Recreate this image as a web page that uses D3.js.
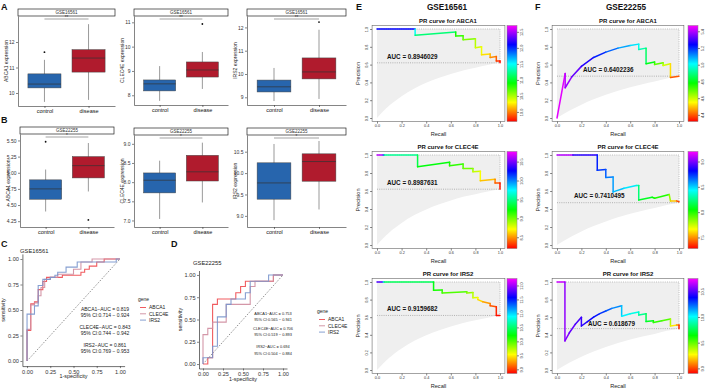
<!DOCTYPE html>
<html lang="en">
<head>
<meta charset="utf-8">
<title>Figure</title>
<script src="https://cdn.jsdelivr.net/npm/d3@7/dist/d3.min.js"></script>
<style>
  body { margin: 0; background: #fff; }
  svg { display: block; font-family: "Liberation Sans", Arial, sans-serif; }
</style>
</head>
<body>
<script>
// ---- data ----
var groups = ["control", "disease"];
var genes = ["ABCA1", "CLEC4E", "IRS2"];

// boxplot stats per group: [lower whisker, Q1, median, Q3, upper whisker]
var boxA1 = [[9.65, 10.2, 10.35, 10.75, 11.3], [9.73, 10.82, 11.37, 11.7, 12.7]];
var outA1 = [[11.6], []];
var boxA2 = [[7.77, 8.18, 8.47, 8.63, 9.2], [8.26, 8.75, 9.04, 9.37, 9.78]];
var outA2 = [[], [10.93]];
var boxA3 = [[8.84, 9.23, 9.45, 9.74, 10.26], [8.93, 9.79, 10.09, 10.69, 11.9]];
var outA3 = [[], [12.23]];
var boxB1 = [[4.40, 4.59, 4.75, 4.89, 5.05], [4.71, 4.92, 5.11, 5.25, 5.46]];
var outB1 = [[5.48], [4.27]];
var boxB2 = [[7.04, 7.72, 8.05, 8.24, 8.56], [7.47, 8.03, 8.27, 8.7, 9.03]];
var outB2 = [[], []];
var boxB3 = [[8.9, 9.39, 9.77, 10.24, 10.68], [9.15, 9.81, 10.27, 10.45, 10.75]];
var outB3 = [[], []];

// ROC curves: [fpr, tpr] (top of each vertical step)
var rocC_ABCA1 = [[0,0],[0,0.3],[0.04,0.56],[0.08,0.58],[0.12,0.7],[0.17,0.78],[0.21,0.82],[0.38,0.84],[0.58,0.87],[0.62,0.9],[0.67,0.93],[0.75,0.97],[0.83,1],[1,1]];
var rocC_CLEC4E = [[0,0],[0,0.31],[0.04,0.55],[0.08,0.57],[0.12,0.64],[0.15,0.72],[0.19,0.8],[0.25,0.82],[0.33,0.85],[0.5,0.9],[0.58,0.97],[0.7,1],[1,1]];
var rocC_IRS2 = [[0,0],[0,0.46],[0.08,0.54],[0.12,0.74],[0.17,0.8],[0.25,0.82],[0.3,0.84],[0.33,0.87],[0.42,0.92],[0.54,0.97],[0.96,1],[1,1]];
var rocD_ABCA1 = [[0,0],[0.06,0.07],[0.12,0.67],[0.18,0.73],[0.41,0.8],[0.47,0.87],[0.53,0.93],[0.88,1],[1,1]];
var rocD_CLEC4E = [[0,0],[0,0.33],[0.06,0.4],[0.12,0.47],[0.29,0.67],[0.59,0.87],[0.65,0.93],[0.88,1],[1,1]];
var rocD_IRS2 = [[0,0],[0,0.07],[0.12,0.2],[0.18,0.53],[0.29,0.67],[0.35,0.73],[0.53,0.8],[0.59,0.93],[0.82,1],[1,1]];
var aucC = ["ABCA1\u2212AUC = 0.819", "95% CI:0.714 \u2212 0.924", "CLEC4E\u2212AUC = 0.843", "95% CI:0.744 \u2212 0.942", "IRS2\u2212AUC = 0.861", "95% CI:0.769 \u2212 0.953"];
var aucD = ["ABCA1\u2212AUC = 0.753", "95% CI:0.565 \u2212 0.941", "CLEC4E\u2212AUC = 0.706", "95% CI:0.519 \u2212 0.893", "IRS2\u2212AUC = 0.694", "95% CI:0.504 \u2212 0.884"];

// PR curves: [recall, precision, threshold]
var prE_ABCA1 = [[0,1,12.7],[0.31,1,11.5],[0.31,0.93,11.45],[0.64,0.965,10.9],[0.64,0.92,10.85],[0.70,0.925,10.75],[0.70,0.88,10.7],[0.80,0.89,10.5],[0.80,0.79,10.45],[0.85,0.80,10.35],[0.85,0.71,10.3],[0.92,0.72,10.15],[0.92,0.68,10.1],[0.97,0.69,9.95],[0.97,0.64,9.9],[1.0,0.64,9.75],[1.0,0.62,9.7]];
var prE_CLEC4E = [[0,1,10.77],[0.05,1,10.5],[0.06,1,9.6],[0.33,1,9.45],[0.33,0.87,9.3],[0.59,0.92,9.2],[0.59,0.88,9.17],[0.70,0.90,9.1],[0.70,0.85,9.05],[0.78,0.85,8.95],[0.78,0.815,8.9],[0.84,0.82,8.75],[0.84,0.715,8.7],[0.96,0.73,8.48],[0.96,0.69,8.45],[1.0,0.69,8.3],[1.0,0.62,8.2]];
var prE_IRS2 = [[0,1,12.25],[0.05,1,11.3],[0.06,1,10.6],[0.46,1,10.3],[0.46,0.905,10.2],[0.53,0.91,10.1],[0.53,0.875,10.05],[0.73,0.89,9.95],[0.73,0.875,9.9],[0.78,0.88,9.75],[0.78,0.82,9.7],[0.82,0.825,9.55],[0.82,0.80,9.5],[0.86,0.775,9.35],[0.92,0.755,9.2],[0.92,0.73,9.15],[0.97,0.72,9.0],[0.97,0.62,8.9],[1.0,0.62,8.85]];
var prF_ABCA1 = [[0,0,5.47],[0.067,0.5,5.42],[0.067,0.34,5.4],[0.12,0.46,5.36],[0.2,0.58,5.3],[0.3,0.68,5.24],[0.4,0.74,5.18],[0.5,0.785,5.12],[0.6,0.815,5.06],[0.67,0.83,5.01],[0.67,0.77,4.98],[0.73,0.785,4.9],[0.73,0.61,4.84],[0.8,0.63,4.76],[0.8,0.60,4.73],[0.87,0.62,4.66],[0.87,0.59,4.62],[0.93,0.61,4.56],[0.93,0.455,4.48],[1.0,0.47,4.32]];
var prF_CLEC4E = [[0,1,9.2],[0.13,1,8.98],[0.33,1,8.78],[0.33,0.83,8.76],[0.40,0.84,8.7],[0.40,0.75,8.66],[0.46,0.755,8.6],[0.46,0.59,8.56],[0.55,0.63,8.5],[0.65,0.66,8.43],[0.67,0.66,8.3],[0.67,0.50,8.15],[0.78,0.53,8.05],[0.80,0.52,8.03],[0.92,0.56,7.98],[0.93,0.49,7.66],[0.98,0.49,7.5],[1.0,0.48,7.28]];
var prF_IRS2 = [[0,1,10.75],[0.065,1,10.6],[0.065,0.33,10.58],[0.1,0.42,10.55],[0.15,0.52,10.5],[0.2,0.60,10.47],[0.2,0.50,10.45],[0.25,0.55,10.42],[0.3,0.60,10.38],[0.35,0.64,10.33],[0.4,0.67,10.28],[0.45,0.70,10.22],[0.53,0.73,10.14],[0.53,0.61,10.05],[0.6,0.64,10.0],[0.67,0.66,9.95],[0.67,0.625,9.9],[0.73,0.64,9.8],[0.73,0.55,9.72],[0.79,0.56,9.65],[0.79,0.54,9.6],[0.86,0.56,9.55],[0.93,0.58,9.5],[0.93,0.50,9.27],[0.98,0.51,9.2],[1.0,0.51,9.0],[1.0,0.47,8.9]];
// lower bound of the PR region
var minCurveE = [[0,0],[0.05,0.075],[0.1,0.14],[0.2,0.245],[0.3,0.33],[0.4,0.395],[0.5,0.45],[0.6,0.495],[0.7,0.535],[0.8,0.565],[0.9,0.595],[1,0.62]];
var minCurveF = [[0,0],[0.05,0.042],[0.1,0.081],[0.2,0.15],[0.3,0.21],[0.4,0.26],[0.5,0.307],[0.6,0.346],[0.7,0.38],[0.8,0.41],[0.9,0.445],[1,0.47]];
var aucE = ["AUC = 0.8946029", "AUC = 0.8987631", "AUC = 0.9159682"];
var aucF = ["AUC = 0.6402236", "AUC = 0.7410495", "AUC = 0.618679"];

var rocColors = {ABCA1: "#ee4a4f", CLEC4E: "#cf8c9e", IRS2: "#7995cc"};

var svg = d3.select("body").append("svg").attr("width", 708).attr("height", 392);

function styleAxis(a, size) {
  a.attr("font-size", size).attr("font-family", "Liberation Sans, Arial, sans-serif");
  a.selectAll("path, line").attr("stroke", "#333").attr("stroke-width", 0.6);
  a.selectAll("text").attr("fill", "#333");
}

function boxPanel(c) {
  var g = svg.append("g");
  var x = d3.scalePoint().domain(groups).range([c.x0, c.x1]).padding(0.6);
  var y = d3.scaleLinear().domain(c.domain).range([c.y1, c.y0]);
  var bw = x.step() * 0.75;

  g.append("rect").attr("x", c.x0).attr("y", c.y0 - 7).attr("width", c.x1 - c.x0).attr("height", 7)
    .attr("fill", "#fff").attr("stroke", "#222").attr("stroke-width", 0.7);
  g.append("text").attr("x", (c.x0 + c.x1) / 2).attr("y", c.y0 - 1.8).attr("text-anchor", "middle")
    .attr("font-size", 4.5).attr("fill", "#333").text(c.strip);

  var ya = g.append("g").attr("transform", "translate(" + c.x0 + ",0)")
    .call(d3.axisLeft(y).tickValues(c.ticks).tickFormat(c.fmt).tickSize(2).tickSizeOuter(0).tickPadding(1.5));
  styleAxis(ya, 5);
  var xa = g.append("g").attr("transform", "translate(0," + c.y1 + ")")
    .call(d3.axisBottom(x).tickSize(2).tickSizeOuter(0).tickPadding(1));
  styleAxis(xa, 5.5);
  xa.selectAll("text").attr("fill", "#111");

  g.append("text").attr("transform", "translate(" + (c.x0 - 10) + "," + ((c.y0 + c.y1) / 2) + ") rotate(-90)")
    .attr("text-anchor", "middle").attr("font-size", 5).attr("fill", "#222").text(c.title);

  groups.forEach(function(k, i) {
    var s = c.stats[i], cx = x(k);
    g.append("line").attr("x1", cx).attr("x2", cx).attr("y1", y(s[0])).attr("y2", y(s[4]))
      .attr("stroke", "#555").attr("stroke-width", 0.6);
    g.append("rect").attr("x", cx - bw / 2).attr("width", bw).attr("y", y(s[3])).attr("height", y(s[1]) - y(s[3]))
      .attr("fill", i == 0 ? "#2765ad" : "#b01b2d").attr("stroke", "#444").attr("stroke-width", 0.5);
    g.append("line").attr("x1", cx - bw / 2).attr("x2", cx + bw / 2).attr("y1", y(s[2])).attr("y2", y(s[2]))
      .attr("stroke", "#333").attr("stroke-width", 0.7);
    c.out[i].forEach(function(v) {
      g.append("circle").attr("cx", cx).attr("cy", y(v)).attr("r", 0.9).attr("fill", "#111");
    });
  });

  var by = c.y0 + 3;
  g.append("line").attr("x1", x("control")).attr("x2", x("disease")).attr("y1", by).attr("y2", by)
    .attr("stroke", "#444").attr("stroke-width", 0.5);
  g.append("text").attr("x", (x("control") + x("disease")) / 2).attr("y", by - 0.3).attr("text-anchor", "middle")
    .attr("font-size", 4.5).attr("fill", "#333").text(c.sig);
}

function rocPanel(c) {
  var g = svg.append("g");
  var x = d3.scaleLinear().domain([-0.05, 1.05]).range([c.x0, c.x1]);
  var y = d3.scaleLinear().domain([-0.05, 1.05]).range([c.y1, c.y0]);
  var ticks = [0, 0.25, 0.5, 0.75, 1];

  var xa = g.append("g").attr("transform", "translate(0," + c.y1 + ")")
    .call(d3.axisBottom(x).tickValues(ticks).tickFormat(d3.format(".2f")).tickSize(2).tickSizeOuter(0).tickPadding(1.5));
  styleAxis(xa, 5.6);
  var ya = g.append("g").attr("transform", "translate(" + c.x0 + ",0)")
    .call(d3.axisLeft(y).tickValues(ticks).tickFormat(d3.format(".2f")).tickSize(2).tickSizeOuter(0).tickPadding(1.5));
  styleAxis(ya, 5.6);
  xa.selectAll("path").attr("stroke", "#111");
  ya.selectAll("path").attr("stroke", "#111");

  g.append("line").attr("x1", x(0)).attr("y1", y(0)).attr("x2", x(1)).attr("y2", y(1))
    .attr("stroke", "#444").attr("stroke-width", 0.6).attr("stroke-dasharray", "1.5,1.5");

  var line = d3.line().x(function(d) { return x(d[0]); }).y(function(d) { return y(d[1]); }).curve(d3.curveStepAfter);
  c.curves.forEach(function(cv, i) {
    g.append("path").attr("d", line(cv)).attr("fill", "none").attr("stroke", rocColors[genes[i]])
      .attr("stroke-width", 1.1).attr("stroke-opacity", 0.9);
  });

  g.append("text").attr("x", c.titleX).attr("y", c.titleY).attr("font-size", 5.8).attr("fill", "#222").text(c.title);
  g.append("text").attr("x", (c.x0 + c.x1) / 2).attr("y", c.y1 + 12).attr("text-anchor", "middle")
    .attr("font-size", 5.4).attr("fill", "#222").text("1-specificity");
  g.append("text").attr("transform", "translate(" + (c.x0 - 17) + "," + ((c.y0 + c.y1) / 2) + ") rotate(-90)")
    .attr("text-anchor", "middle").attr("font-size", 5.4).attr("fill", "#222").text("sensitivity");

  c.auc.forEach(function(t, i) {
    g.append("text").attr("x", c.aucX).attr("y", c.aucY[i]).attr("text-anchor", "middle")
      .attr("font-size", c.aucSize).attr("fill", "#222").text(t);
  });

  // legend
  g.append("text").attr("x", c.legX).attr("y", c.legY).attr("font-size", 5).attr("fill", "#222").text("gene");
  genes.forEach(function(k, i) {
    var ly = c.legY + 6.5 + i * 6.3;
    g.append("line").attr("x1", c.legX + 2).attr("x2", c.legX + 8).attr("y1", ly).attr("y2", ly)
      .attr("stroke", rocColors[k]).attr("stroke-width", 0.9);
    g.append("text").attr("x", c.legX + 11).attr("y", ly + 1.8).attr("font-size", 5).attr("fill", "#222").text(k);
  });
}

var gradCount = 0;
function prPanel(c) {
  var g = svg.append("g");
  var x = d3.scaleLinear().domain([0, 1]).range([c.x0, c.x1]);
  var y = d3.scaleLinear().domain([0, 1]).range([c.yb, c.yt]);
  var bx0 = x(-0.04), bx1 = x(1.04), by0 = y(1.04), by1 = y(-0.04);
  var hue = d3.scaleLinear().domain([c.cmin, c.cmax]).range([0, 300]).clamp(true);
  var pi = c.minCurve[c.minCurve.length - 1][1];

  var lower = d3.line().x(function(d) { return x(d[0]); }).y(function(d) { return y(d[1]); }).curve(d3.curveMonotoneX);
  g.append("path").attr("d", lower(c.minCurve) + "L" + x(1) + "," + y(1) + "L" + x(0) + "," + y(1) + "Z")
    .attr("fill", "#efefef");
  g.append("path").attr("d", "M" + x(0) + "," + y(1) + "H" + x(1) + "V" + y(pi))
    .attr("fill", "none").attr("stroke", "#999").attr("stroke-width", 0.6).attr("stroke-dasharray", "1,1.2");
  g.append("line").attr("x1", x(0)).attr("x2", x(1)).attr("y1", y(pi)).attr("y2", y(pi))
    .attr("stroke", "#888").attr("stroke-width", 0.6).attr("stroke-dasharray", "1,1.2");

  for (var i = 0; i < c.data.length - 1; i++) {
    var a = c.data[i], b = c.data[i + 1];
    g.append("line").attr("x1", x(a[0])).attr("y1", y(a[1])).attr("x2", x(b[0])).attr("y2", y(b[1]))
      .attr("stroke", d3.hsl(hue((a[2] + b[2]) / 2), 1, 0.5)).attr("stroke-width", 1.5).attr("stroke-linecap", "round");
  }

  g.append("rect").attr("x", bx0).attr("y", by0).attr("width", bx1 - bx0).attr("height", by1 - by0)
    .attr("fill", "none").attr("stroke", "#666").attr("stroke-width", 0.6);

  var ticks = [0, 0.2, 0.4, 0.6, 0.8, 1];
  var xa = g.append("g").attr("transform", "translate(0," + by1 + ")")
    .call(d3.axisBottom(x).tickValues(ticks).tickFormat(d3.format(".1f")).tickSize(2).tickSizeOuter(0).tickPadding(1));
  styleAxis(xa, 3.8);
  xa.select(".domain").remove();
  var ya = g.append("g").attr("transform", "translate(" + bx0 + ",0)")
    .call(d3.axisLeft(y).tickValues(ticks).tickFormat(d3.format(".1f")).tickSize(2).tickSizeOuter(0));
  styleAxis(ya, 3.8);
  ya.select(".domain").remove();
  ya.selectAll("text").attr("x", 0).attr("dy", 0).attr("text-anchor", "middle")
    .attr("transform", "translate(-4.5,0) rotate(-90)");

  g.append("text").attr("x", c.titleX).attr("y", (c.yt - 6)).attr("text-anchor", "middle")
    .attr("font-size", 6).attr("font-weight", "bold").attr("fill", "#111").text(c.title);
  g.append("text").attr("x", (bx0 + bx1) / 2).attr("y", by1 + 14).attr("text-anchor", "middle")
    .attr("font-size", 5.6).attr("fill", "#222").text("Recall");
  g.append("text").attr("transform", "translate(" + (bx0 - 12) + "," + ((by0 + by1) / 2) + ") rotate(-90)")
    .attr("text-anchor", "middle").attr("font-size", 5.6).attr("fill", "#222").text("Precision");
  g.append("text").attr("x", c.aucX).attr("y", c.aucY).attr("font-size", 6.3).attr("font-weight", "bold")
    .attr("fill", "#111").text(c.auc);

  // colour bar
  var id = "grad" + (gradCount++);
  var grad = svg.append("defs").append("linearGradient").attr("id", id)
    .attr("x1", 0).attr("y1", 1).attr("x2", 0).attr("y2", 0);
  d3.range(0, 301, 20).forEach(function(h) {
    grad.append("stop").attr("offset", h / 300).attr("stop-color", d3.hsl(h, 1, 0.5));
  });
  g.append("rect").attr("x", c.cbx).attr("y", by0).attr("width", 10).attr("height", by1 - by0)
    .attr("fill", "url(#" + id + ")").attr("stroke", "#888").attr("stroke-width", 0.5);
  var cs = d3.scaleLinear().domain([c.cmin, c.cmax]).range([by1, by0]);
  var ca = g.append("g").attr("transform", "translate(" + (c.cbx + 10) + ",0)")
    .call(d3.axisRight(cs).tickValues(c.cticks).tickFormat(d3.format(".1f")).tickSize(2).tickSizeOuter(0));
  styleAxis(ca, 3.8);
  ca.select(".domain").remove();
  ca.selectAll("text").attr("x", 0).attr("dy", 0).attr("text-anchor", "middle")
    .attr("transform", "translate(5.5,0) rotate(-90)");
}

function letter(t, x, y) {
  svg.append("text").attr("x", x).attr("y", y).attr("font-size", 9).attr("font-weight", "bold").attr("fill", "#111").text(t);
}

// ---- panels A and B ----
letter("A", 1, 10);
boxPanel({x0: 18, x1: 115, y0: 16, y1: 106, domain: [9.49, 13.02], ticks: [10, 11, 12], fmt: d3.format("d"),
  title: "ABCA1 expression", strip: "GSE16561", stats: boxA1, out: outA1, sig: "**"});
boxPanel({x0: 134, x1: 228, y0: 16, y1: 105, domain: [7.6, 11.26], ticks: [8, 9, 10, 11], fmt: d3.format("d"),
  title: "CLEC4E expression", strip: "GSE16561", stats: boxA2, out: outA2, sig: "**"});
boxPanel({x0: 247, x1: 346, y0: 16, y1: 105, domain: [8.67, 12.49], ticks: [9, 10, 11, 12], fmt: d3.format("d"),
  title: "IRS2 expression", strip: "GSE16561", stats: boxA3, out: outA3, sig: "**"});

letter("B", 1, 123);
boxPanel({x0: 20, x1: 114, y0: 134, y1: 227, domain: [4.16, 5.6], ticks: [4.25, 4.5, 4.75, 5, 5.25, 5.5], fmt: d3.format(".2f"),
  title: "ABCA1 expression", strip: "GSE22255", stats: boxB1, out: outB1, sig: "*"});
boxPanel({x0: 134, x1: 228, y0: 135, y1: 227, domain: [6.83, 9.23], ticks: [7, 7.5, 8, 8.5, 9], fmt: d3.format(".1f"),
  title: "CLEC4E expression", strip: "GSE22255", stats: boxB2, out: outB2, sig: "*"});
boxPanel({x0: 247, x1: 346, y0: 135, y1: 227, domain: [8.74, 10.89], ticks: [9, 9.5, 10, 10.5], fmt: d3.format(".1f"),
  title: "IRS2 expression", strip: "GSE22255", stats: boxB3, out: outB3, sig: "*"});

// ---- panels C and D ----
letter("C", 1, 247);
rocPanel({x0: 22.4, x1: 124.6, y0: 253.9, y1: 366.1, curves: [rocC_ABCA1, rocC_CLEC4E, rocC_IRS2],
  title: "GSE16561", titleX: 20, titleY: 253, auc: aucC, aucX: 105, aucY: [311, 317, 329, 335, 347, 353], aucSize: 5,
  legX: 138, legY: 301});
letter("D", 171, 247);
rocPanel({x0: 199, x1: 287, y0: 270.5, y1: 368.5, curves: [rocD_ABCA1, rocD_CLEC4E, rocD_IRS2],
  title: "GSE22255", titleX: 193, titleY: 265, auc: aucD, aucX: 273, aucY: [315, 321, 330, 336, 348, 355], aucSize: 3.9,
  legX: 317, legY: 313});

// ---- panels E and F ----
letter("E", 356, 10);
svg.append("text").attr("x", 447).attr("y", 10).attr("text-anchor", "middle").attr("font-size", 8.2)
  .attr("font-weight", "bold").attr("fill", "#111").text("GSE16561");
letter("F", 535, 10);
svg.append("text").attr("x", 626).attr("y", 10).attr("text-anchor", "middle").attr("font-size", 8.2)
  .attr("font-weight", "bold").attr("fill", "#111").text("GSE22255");

var rowsY = [[29, 118], [155, 245], [282, 370]];
var prE = [prE_ABCA1, prE_CLEC4E, prE_IRS2];
var prF = [prF_ABCA1, prF_CLEC4E, prF_IRS2];
var cbarE = [[9.7, 12.7, [10, 10.5, 11, 11.5, 12, 12.5]], [8.2, 10.77, [8.5, 9, 9.5, 10, 10.5]], [8.85, 12.25, [9, 9.5, 10, 10.5, 11, 11.5, 12]]];
var cbarF = [[4.32, 5.47, [4.4, 4.6, 4.8, 5, 5.2, 5.4]], [7.28, 9.2, [7.5, 8, 8.5, 9]], [8.9, 10.75, [9, 9.5, 10, 10.5]]];
var aucPosE = [[387, 59], [387, 185], [387, 311]];
var aucPosF = [[583, 72], [574, 198], [588, 326]];

genes.forEach(function(k, i) {
  prPanel({x0: 377, x1: 500, yt: rowsY[i][0], yb: rowsY[i][1], data: prE[i], minCurve: minCurveE,
    cmin: cbarE[i][0], cmax: cbarE[i][1], cticks: cbarE[i][2], cbx: 507, titleX: 448,
    title: "PR curve for " + k, auc: aucE[i], aucX: aucPosE[i][0], aucY: aucPosE[i][1]});
  prPanel({x0: 557, x1: 679, yt: rowsY[i][0], yb: rowsY[i][1], data: prF[i], minCurve: minCurveF,
    cmin: cbarF[i][0], cmax: cbarF[i][1], cticks: cbarF[i][2], cbx: 688, titleX: 628,
    title: "PR curve for " + k, auc: aucF[i], aucX: aucPosF[i][0], aucY: aucPosF[i][1]});
});
</script>
</body>
</html>
